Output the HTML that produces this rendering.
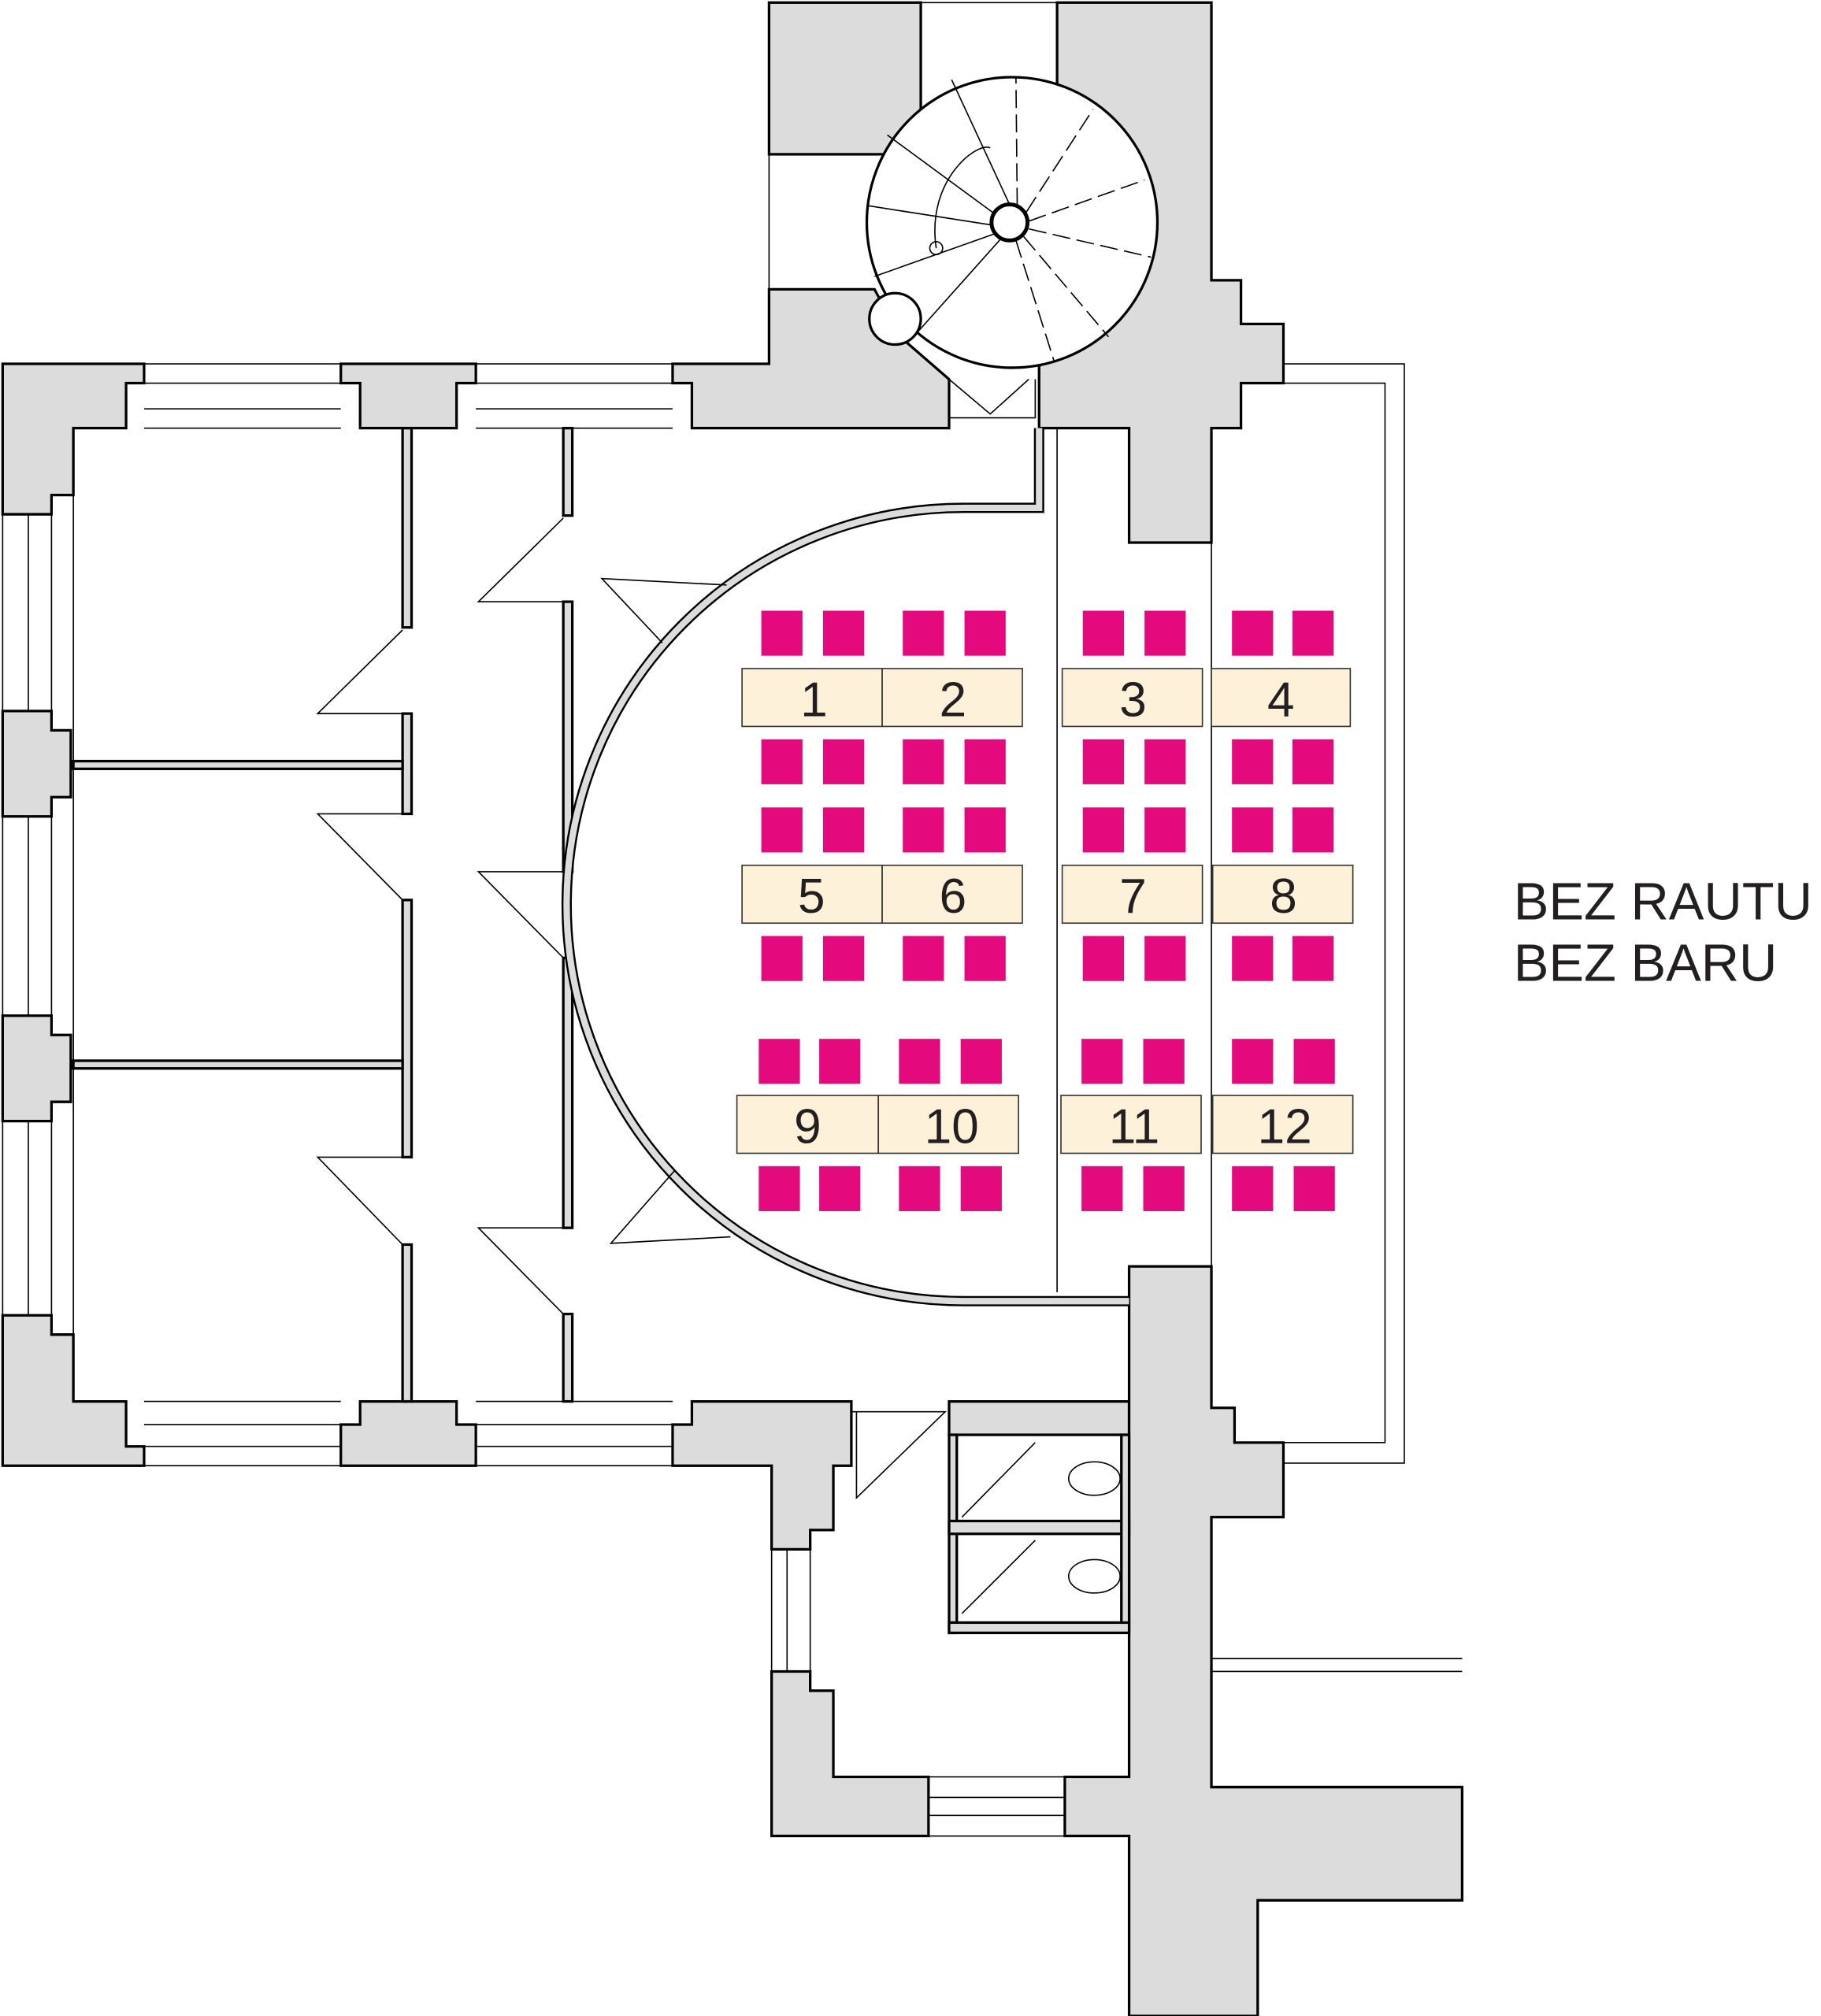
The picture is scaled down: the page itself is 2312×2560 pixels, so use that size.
<!DOCTYPE html>
<html><head><meta charset="utf-8"><style>
html,body{margin:0;padding:0;background:#fff}
svg{display:block}
text{font-family:"Liberation Sans",sans-serif;fill:#231f20}
</style></head><body>
<svg width="2312" height="2560" viewBox="0 0 1416 1568" xmlns="http://www.w3.org/2000/svg">
<g fill="#dcdcdc" stroke="#000" stroke-width="2" stroke-linejoin="miter">
<path d="M2,283 H112 V298 H98 V333 H57 V385 H40 V400 H2 Z"/>
<path d="M2,553 H40 V568 H55 V620 H40 V635 H2 Z"/>
<path d="M2,790 H40 V805 H55 V857 H40 V872 H2 Z"/>
<path d="M2,1023 H40 V1038 H57 V1090 H98 V1125 H112 V1140 H2 Z"/>
<path d="M265,283 H370 V298 H355 V333 H280 V298 H265 Z"/>
<path d="M280,1090 H355 V1108 H370 V1140 H265 V1108 H280 Z"/>
<path d="M523,283 H598 V225 H680 L700,262 L738,295 V333 H538 V298 H523 Z"/>
<rect x="598" y="2" width="118" height="118"/>
<path d="M822,2 H942 V218 H965 V252 H998 V298 H965 V333 H942 V422 H878 V333 H808 V285 L822,270 Z"/>
<path d="M523,1140 V1108 H538 V1090 H662 V1140 H648 V1190 H630 V1205 H600 V1140 Z"/>
<path d="M600,1300 H630 V1315 H648 V1382 H722 V1428 H600 Z"/>
<path d="M738,1090 H878 V1116 H738 Z"/>
<path d="M878,985 H942 V1095 H960 V1122 H998 V1180 H942 V1390 H1137 V1478 H978 V1568 H878 V1428 H828 V1382 H878 Z"/>
</g>
<g fill="#fff" stroke="#000">
<circle cx="787" cy="173" r="113" stroke-width="2"/>
<circle cx="696" cy="248" r="20" stroke-width="2"/>
<circle cx="785" cy="173" r="14" stroke-width="3"/>
<circle cx="728" cy="193" r="5" stroke-width="1"/>
</g>
<g stroke="#000" stroke-width="1" fill="none">
<path d="M785,159 L740,62 M773,166 L690,105 M771,175 L675,160 M773,182 L680,215 M778,186 L712,260"/>
<path d="M791,160 L790,60 M798,165 L850,85 M800,172 L890,140 M800,178 L895,200 M796,184 L862,262 M790,187 L820,282" stroke-dasharray="14,5"/>
<path d="M728,193 C720,140 760,110 770,115" />
<path d="M738,295 L770,322 L800,295 M738,295 V325 H805 V295"/>
</g>
<g stroke="#000" stroke-width="1" fill="none">
<path d="M112,283 H265 M112,298 H265 M112,318 H265 M112,333 H265"/>
<path d="M370,283 H523 M370,298 H523 M370,318 H523 M370,333 H523"/>
<path d="M112,1090 H265 M112,1108 H265 M112,1125 H265 M112,1140 H265"/>
<path d="M370,1090 H523 M370,1108 H523 M370,1125 H523 M370,1140 H523"/>
<path d="M2,400 V553 M22,400 V553 M40,400 V553 M57,385 V1038"/>
<path d="M2,635 V790 M22,635 V790 M40,635 V790"/>
<path d="M2,872 V1023 M22,872 V1023 M40,872 V1023"/>
<path d="M600,1205 V1300 M612,1205 V1300 M630,1205 V1300"/>
<path d="M722,1382 H828 M722,1398 H828 M722,1412 H828 M722,1428 H828"/>
<path d="M998,283 H1092 V1138 H998 M998,298 H1077 V1122 H998"/>
<path d="M942,1290 H1137 M942,1300 H1137"/>
<path d="M822,333 V1005 M942,422 V985"/>
<path d="M598,120 V225 M716,2 H822"/>
</g>
<g stroke="#000" stroke-width="2" fill="#dcdcdc">
<rect x="313" y="333" width="7" height="155"/>
<rect x="313" y="555" width="7" height="78"/>
<rect x="313" y="700" width="7" height="200"/>
<rect x="313" y="968" width="7" height="122"/>
<rect x="438" y="333" width="7" height="68"/>
<rect x="438" y="468" width="7" height="210"/>
<rect x="438" y="745" width="7" height="210"/>
<rect x="438" y="1022" width="7" height="68"/>
<rect x="57" y="592" width="256" height="6"/>
<rect x="57" y="825" width="256" height="6"/>
<rect x="738" y="1116" width="6" height="154"/>
<rect x="738" y="1183" width="140" height="10"/>
<rect x="738" y="1262" width="140" height="8"/>
<rect x="872" y="1116" width="6" height="146"/>
</g>
<path d="M808,333 V395 H749 A308.5,308.5 0 0 0 749,1012 H878" fill="none" stroke="#000" stroke-width="8"/>
<path d="M808,333 V395 H749 A308.5,308.5 0 0 0 749,1012 H878" fill="none" stroke="#dcdcdc" stroke-width="5"/>
<g stroke="#000" stroke-width="1" fill="none">
<path d="M438,403 L372,468 H438"/>
<path d="M313,490 L247,555 H313"/>
<path d="M313,633 L247,633 L313,700"/>
<path d="M438,678 L372,678 L438,745"/>
<path d="M313,900 L247,900 L313,968"/>
<path d="M438,955 L372,955 L438,1022"/>
<path d="M565,455 L468,450 L515,500"/>
<path d="M568,962 L475,967 L525,910"/>
<path d="M662,1098 H735 L666,1165 V1098"/>
<path d="M805,1122 L748,1180 M805,1198 L748,1255"/>
<ellipse cx="851" cy="1150" rx="20" ry="13"/>
<ellipse cx="851" cy="1226" rx="20" ry="13"/>
</g>
<g fill="#e4097d">
<rect x="592" y="475" width="32" height="35"/><rect x="640" y="475" width="32" height="35"/>
<rect x="702" y="475" width="32" height="35"/><rect x="750" y="475" width="32" height="35"/>
<rect x="842" y="475" width="32" height="35"/><rect x="890" y="475" width="32" height="35"/>
<rect x="958" y="475" width="32" height="35"/><rect x="1005" y="475" width="32" height="35"/>
<rect x="592" y="575" width="32" height="35"/><rect x="640" y="575" width="32" height="35"/>
<rect x="702" y="575" width="32" height="35"/><rect x="750" y="575" width="32" height="35"/>
<rect x="842" y="575" width="32" height="35"/><rect x="890" y="575" width="32" height="35"/>
<rect x="958" y="575" width="32" height="35"/><rect x="1005" y="575" width="32" height="35"/>
<rect x="592" y="628" width="32" height="35"/><rect x="640" y="628" width="32" height="35"/>
<rect x="702" y="628" width="32" height="35"/><rect x="750" y="628" width="32" height="35"/>
<rect x="842" y="628" width="32" height="35"/><rect x="890" y="628" width="32" height="35"/>
<rect x="958" y="628" width="32" height="35"/><rect x="1005" y="628" width="32" height="35"/>
<rect x="592" y="728" width="32" height="35"/><rect x="640" y="728" width="32" height="35"/>
<rect x="702" y="728" width="32" height="35"/><rect x="750" y="728" width="32" height="35"/>
<rect x="842" y="728" width="32" height="35"/><rect x="890" y="728" width="32" height="35"/>
<rect x="958" y="728" width="32" height="35"/><rect x="1005" y="728" width="32" height="35"/>
<rect x="590" y="808" width="32" height="35"/><rect x="637" y="808" width="32" height="35"/>
<rect x="699" y="808" width="32" height="35"/><rect x="747" y="808" width="32" height="35"/>
<rect x="841" y="808" width="32" height="35"/><rect x="889" y="808" width="32" height="35"/>
<rect x="958" y="808" width="32" height="35"/><rect x="1006" y="808" width="32" height="35"/>
<rect x="590" y="907" width="32" height="35"/><rect x="637" y="907" width="32" height="35"/>
<rect x="699" y="907" width="32" height="35"/><rect x="747" y="907" width="32" height="35"/>
<rect x="841" y="907" width="32" height="35"/><rect x="889" y="907" width="32" height="35"/>
<rect x="958" y="907" width="32" height="35"/><rect x="1006" y="907" width="32" height="35"/>
</g>
<g fill="#fdf2d9" stroke="#333" stroke-width="1">
<rect x="577" y="520" width="109" height="45"/><rect x="686" y="520" width="109" height="45"/>
<rect x="826" y="520" width="109" height="45"/><rect x="942" y="520" width="108" height="45"/>
<rect x="577" y="673" width="109" height="45"/><rect x="686" y="673" width="109" height="45"/>
<rect x="826" y="673" width="109" height="45"/><rect x="943" y="673" width="109" height="45"/>
<rect x="573" y="852" width="110" height="45"/><rect x="683" y="852" width="109" height="45"/>
<rect x="825" y="852" width="109" height="45"/><rect x="943" y="852" width="109" height="45"/>
</g>
<g font-size="38" text-anchor="middle">
<text x="633" y="557">1</text><text x="741" y="557">2</text><text x="881" y="557">3</text><text x="996" y="557">4</text>
<text x="631" y="710">5</text><text x="741" y="710">6</text><text x="881" y="710">7</text><text x="998" y="710">8</text>
<text x="628" y="889">9</text><text x="740" y="889">10</text><text x="882" y="889">11</text><text x="999" y="889">12</text>
</g>
<text x="1177" y="715" font-size="41">BEZ RAUTU</text>
<text x="1177" y="763" font-size="41">BEZ BARU</text>
</svg>
</body></html>
